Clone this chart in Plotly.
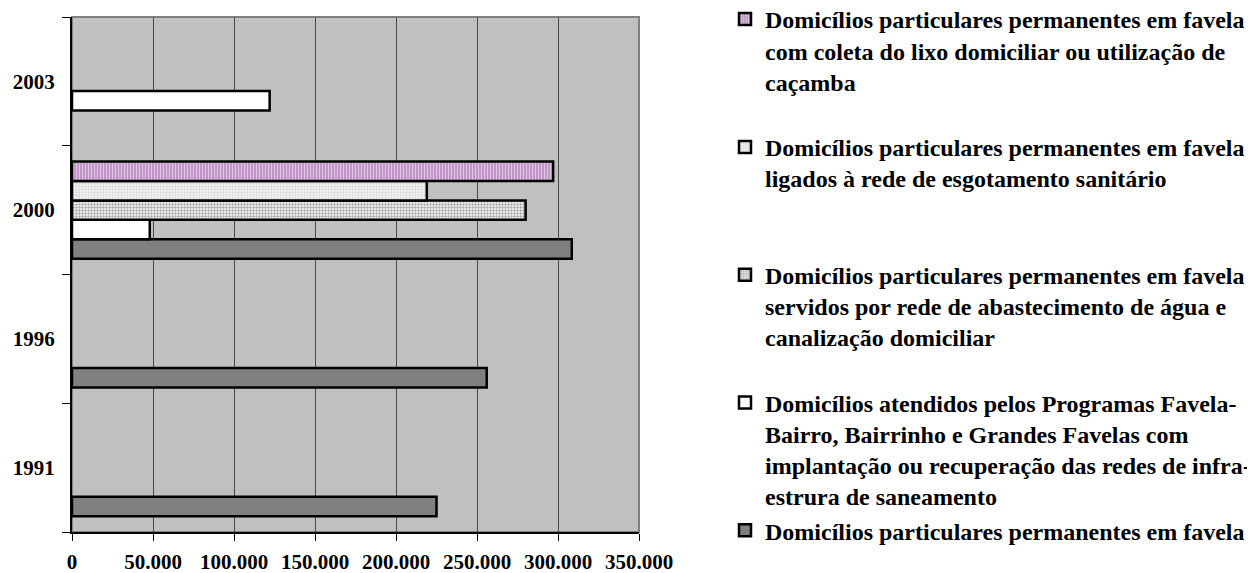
import plotly.graph_objects as go

years = ["1991", "1996", "2000", "2003"]

favela = [225000, 256000, 308500, None]
programas = [None, None, 48000, 122000]
agua = [None, None, 280000, None]
esgoto = [None, None, 219000, None]
lixo = [None, None, 297000, None]

names = [
    "Domicílios particulares permanentes em favela",
    "Domicílios atendidos pelos Programas Favela-<br>Bairro, Bairrinho e Grandes Favelas com<br>implantação ou recuperação das redes de infra-<br>estrura de saneamento",
    "Domicílios particulares permanentes em favela<br>servidos por rede de abastecimento de água e<br>canalização domiciliar",
    "Domicílios particulares permanentes em favela<br>ligados à rede de esgotamento sanitário",
    "Domicílios particulares permanentes em favela<br>com coleta do lixo domiciliar ou utilização de<br>caçamba",
]

x_tickvals = [0, 50000, 100000, 150000, 200000, 250000, 300000, 350000]
x_ticktext = ["0", "50.000", "100.000", "150.000", "200.000", "250.000", "300.000", "350.000"]

FONT = "Liberation Serif, Times New Roman, serif"

# the page body has an 8px default margin, so the figure is sized/offset to compensate
W, H = 1247, 565


def pad(label, n=4):
    lines = label.count("<br>") + 1
    return label + "<br>\u00a0" * (n - lines)


series = [favela, programas, agua, esgoto, lixo]
styles = [
    dict(color="#808080"),
    dict(color="#FFFFFF"),
    dict(color="#E4E4E4", pattern=dict(shape="+", fgcolor="#5A5A5A", bgcolor="#E8E8E8", size=3, solidity=0.35)),
    dict(color="#F2F2F2", pattern=dict(shape=".", fgcolor="#BDBDBD", bgcolor="#F4F4F4", size=3, solidity=0.45)),
    dict(color="#C49CCB", pattern=dict(shape="|", fgcolor="#FFFFFF", bgcolor="#C296C9", size=3, solidity=0.3)),
]

fig = go.Figure()
for i, (vals, st, nm) in enumerate(zip(series, styles, names)):
    marker = dict(line=dict(color="#000000", width=2.5))
    marker.update(st)
    label = nm if i == 0 else pad(nm)
    fig.add_trace(go.Bar(
        y=years, x=vals, orientation="h", name=label,
        marker=marker,
    ))

fig.update_layout(
    width=W, height=H,
    margin=dict(l=64, r=W - 631, t=9, b=H - 524, autoexpand=False),
    paper_bgcolor="#FFFFFF",
    plot_bgcolor="#C0C0C0",
    barmode="group",
    bargap=0.243,
    bargroupgap=0,
    font=dict(family=FONT, color="#000000"),
    showlegend=True,
    legend=dict(
        xref="container", yref="paper",
        x=717 / W, xanchor="left", y=1.0388, yanchor="top",
        traceorder="reversed",
        valign="top",
        maxheight=620,
        font=dict(family=FONT, size=24, color="#000000", weight="bold"),
        bgcolor="rgba(0,0,0,0)",
    ),
    xaxis=dict(
        range=[0, 350000],
        tickvals=x_tickvals, ticktext=x_ticktext,
        tickfont=dict(family=FONT, size=21, weight="bold"),
        ticks="outside", ticklen=7, tickwidth=1, tickcolor="#000000",
        showgrid=True, gridcolor="#4A4A4A", gridwidth=1,
        showline=True, linecolor="#000000", linewidth=1.5,
        mirror=False, zeroline=False, ticklabelstandoff=3,
        fixedrange=True, automargin=False,
    ),
    yaxis=dict(
        type="category", categoryorder="array", categoryarray=years,
        tickfont=dict(family=FONT, size=21, weight="bold"),
        ticks="outside", ticklen=8, tickwidth=1, tickcolor="#000000",
        tickson="boundaries",
        showline=True, linecolor="#000000", linewidth=2,
        showgrid=False, zeroline=False, ticklabelstandoff=11,
        fixedrange=True, automargin=False,
    ),
)

# plot area border (top and right) in gray
fig.add_shape(type="rect", xref="paper", yref="paper", x0=0, y0=0, x1=1, y1=1,
              line=dict(color="#808080", width=2), layer="below")

fig.write_html("out.html")
